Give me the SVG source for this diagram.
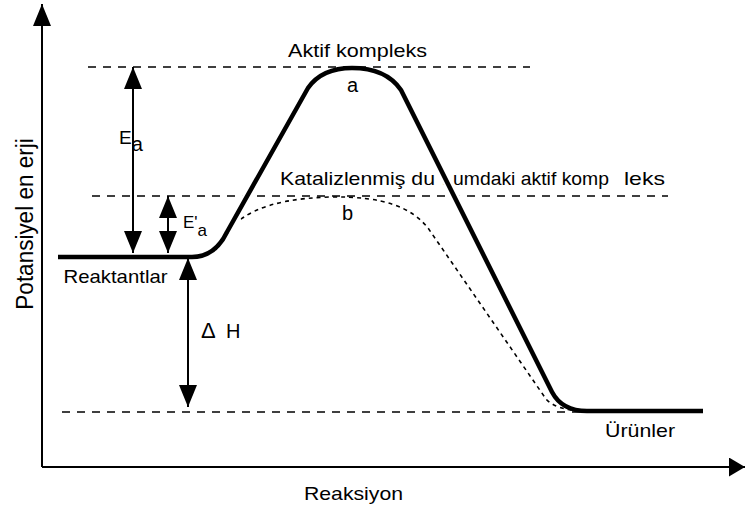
<svg xmlns="http://www.w3.org/2000/svg" width="745" height="510" viewBox="0 0 745 510">
<style>
text{font-family:"Liberation Sans",Arial,sans-serif;font-size:19px;fill:#000}
.dash{stroke:#000;stroke-width:1.6;stroke-dasharray:8 7;fill:none}
.arr{stroke:#000;stroke-width:2;fill:none}
.thick{fill:none;stroke:#000;stroke-width:4.5;stroke-linejoin:round}
</style>
<defs>
<marker id="ah" viewBox="0 0 22 18" refX="22" refY="9" markerWidth="22" markerHeight="18" markerUnits="userSpaceOnUse" orient="auto-start-reverse"><path d="M0,0 L22,9 L0,18 z" fill="#000"/></marker>
<marker id="axh" viewBox="0 0 16 19" refX="16" refY="9.5" markerWidth="16" markerHeight="19" markerUnits="userSpaceOnUse" orient="auto"><path d="M0,0 L16,9.5 L0,19 z" fill="#000"/></marker>
</defs>
<g id="axes">
<line x1="42" y1="467" x2="42" y2="4" class="arr" marker-end="url(#ah)"/>
<line x1="42" y1="467" x2="745" y2="467" class="arr" marker-end="url(#axh)"/>
</g>
<g id="levels">
<line x1="88" y1="67" x2="530" y2="67" class="dash"/>
<line x1="92" y1="196" x2="668" y2="196" class="dash"/>
<line x1="62" y1="412" x2="600" y2="412" class="dash"/>
</g>
<g id="labels">
<text x="288" y="57" textLength="139" lengthAdjust="spacingAndGlyphs">Aktif kompleks</text>
<text x="347" y="92" style="font-size:20px">a</text>
<text y="185"><tspan x="280" textLength="155" lengthAdjust="spacingAndGlyphs">Katalizlenmiş du</tspan><tspan x="442">r</tspan><tspan x="453" textLength="156" lengthAdjust="spacingAndGlyphs">umdaki aktif komp</tspan><tspan x="624" textLength="41" lengthAdjust="spacingAndGlyphs">leks</tspan></text>
<text x="342" y="220" style="font-size:20px">b</text>
<text x="63.5" y="283" textLength="104" lengthAdjust="spacingAndGlyphs">Reaktantlar</text>
<text x="605" y="437" textLength="70" lengthAdjust="spacingAndGlyphs">Ürünler</text>
<text x="304" y="500" textLength="99" lengthAdjust="spacingAndGlyphs">Reaksiyon</text>
<text text-anchor="middle" transform="translate(33,224) rotate(-90) scale(1,1.1)" style="font-size:22.5px">Potansiyel en erji</text>
<text x="119" y="144">E<tspan dy="7" style="font-size:20px">a</tspan></text>
<text x="183" y="228" style="font-size:17px">E'<tspan dy="8">a</tspan></text>
<text x="201" y="338" style="font-size:22px">Δ<tspan x="226" style="font-size:20px">H</tspan></text>
</g>
<g id="connectors">
<path d="M216,250 C232,215 265,199 330,197 C385,196 412,208 428,228 L546,399 Q556,410 582,411" fill="none" stroke="#000" stroke-width="1.6" stroke-dasharray="4 4"/>
<path d="M229,229 L302,99 M407,101 L505,297" fill="none" stroke="#fff" stroke-width="10"/>
<path d="M58,257 L192,257 Q215,257 227,232 L308,88 Q322,68 352,68 Q386,68 401,90 L552,392 Q562,411 587,411 L703,411" class="thick"/>
<line x1="133" y1="67" x2="133" y2="253" class="arr" marker-start="url(#ah)" marker-end="url(#ah)"/>
<line x1="168" y1="196" x2="168" y2="253" class="arr" marker-start="url(#ah)" marker-end="url(#ah)"/>
<line x1="188" y1="258" x2="188" y2="407" class="arr" marker-start="url(#ah)" marker-end="url(#ah)"/>
</g>
</svg>
